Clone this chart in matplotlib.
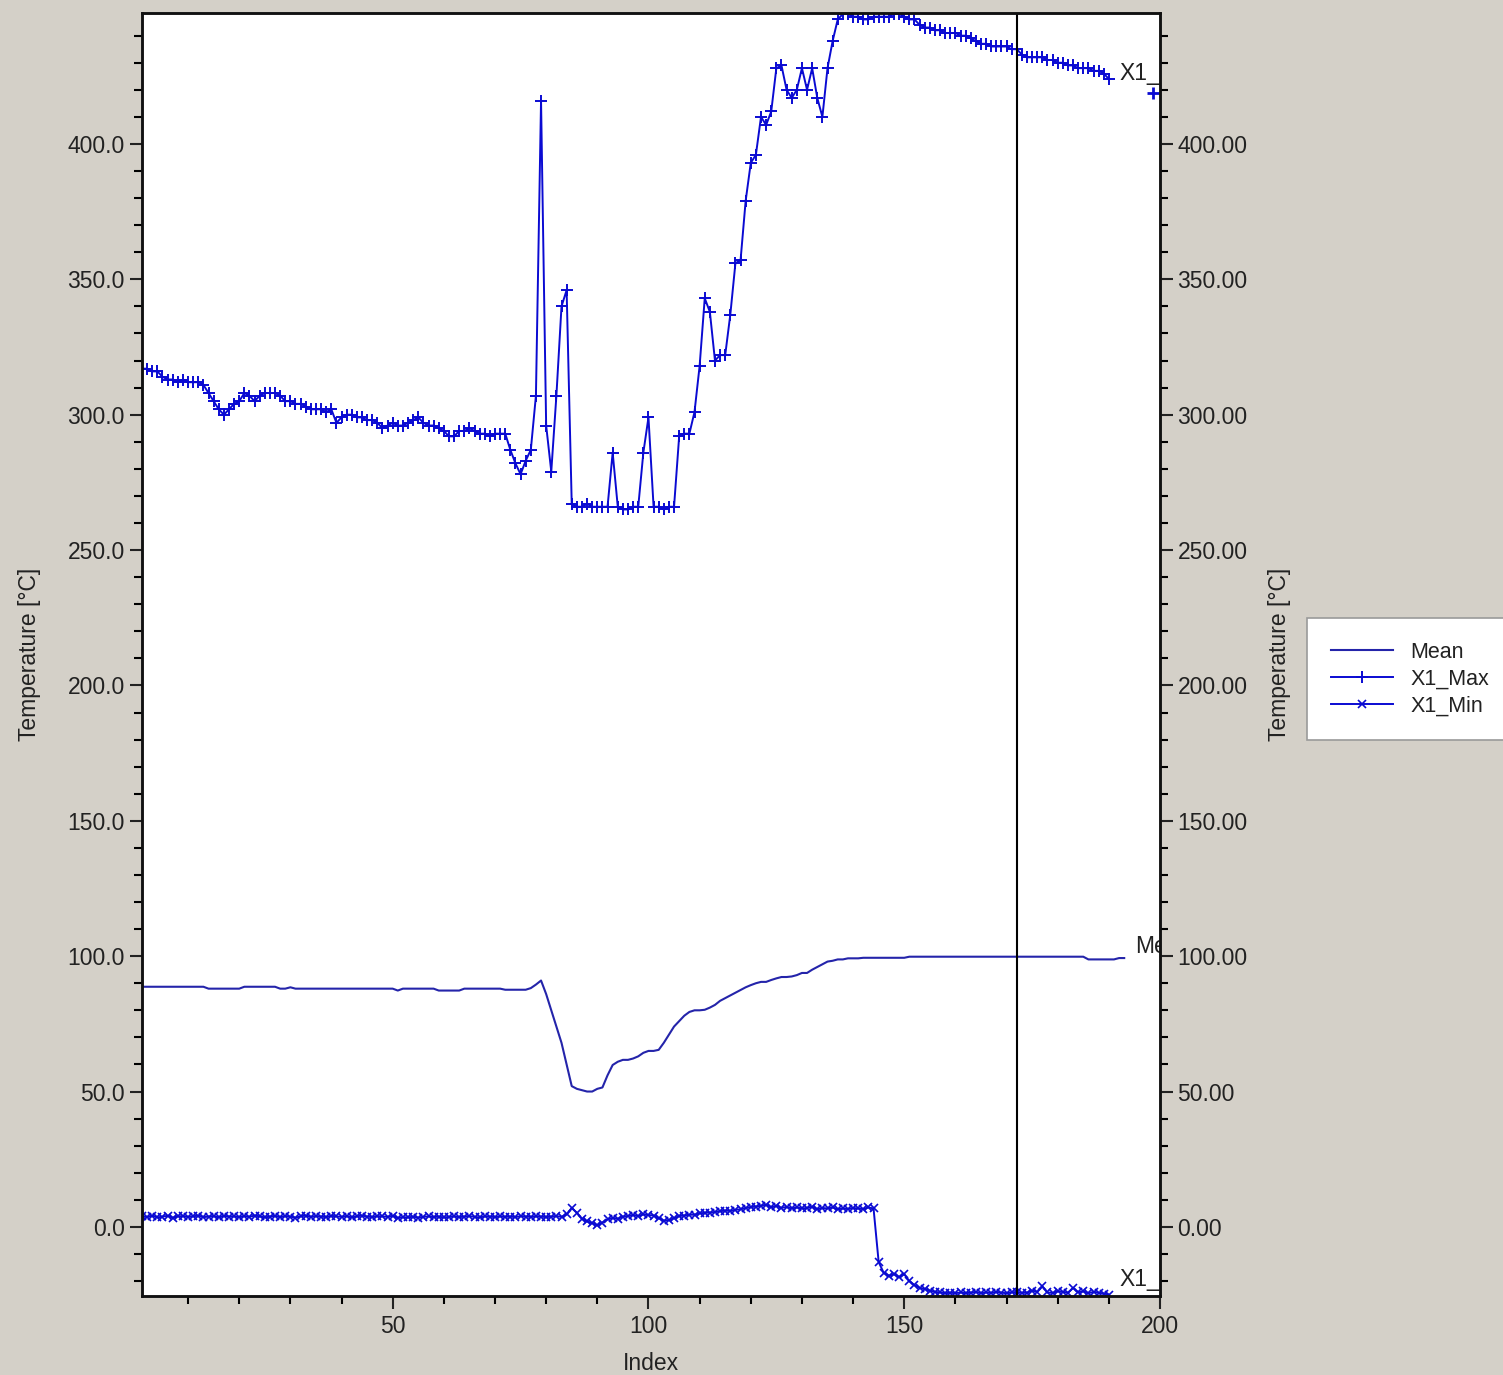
import matplotlib.pyplot as plt
from matplotlib.ticker import MultipleLocator, FormatStrFormatter

plt.rcParams['font.family'] = ['Liberation Sans', 'DejaVu Sans']

# data
max_vals = [317, 317, 316, 316, 314, 313, 313, 312, 313, 312,
            312, 312, 311, 308, 305, 302, 300, 302, 304, 305,
            308, 307, 305, 307, 308, 308, 308, 307, 305, 305,
            304, 304, 303, 302, 302, 302, 301, 302, 297, 299,
            300, 300, 299, 299, 298, 298, 297, 295, 296, 297,
            296, 296, 297, 298, 299, 297, 296, 296, 295, 294,
            292, 292, 294, 294, 295, 294, 293, 293, 292, 293,
            293, 293, 287, 282, 278, 283, 287, 307, 416, 296,
            279, 307, 340, 346, 267, 266, 266, 267, 266, 266,
            266, 266, 286, 266, 265, 265, 266, 266, 286, 299,
            266, 266, 265, 266, 266, 292, 293, 293, 301, 318,
            343, 338, 320, 322, 322, 337, 356, 357, 379, 393,
            396, 410, 407, 412, 428, 429, 420, 417, 420, 428,
            420, 428, 417, 410, 428, 438, 446, 448, 448, 447,
            447, 446, 446, 447, 447, 447, 447, 448, 448, 447,
            446, 446, 444, 443, 443, 442, 442, 441, 441, 441,
            440, 440, 439, 438, 437, 437, 436, 436, 436, 436,
            435, 435, 433, 432, 432, 432, 432, 431, 431, 430,
            430, 429, 429, 428, 428, 428, 427, 427, 426, 424]

mean_vals = [88.7, 88.7, 88.7, 88.7, 88.7, 88.7, 88.7, 88.7, 88.7, 88.7,
             88.7, 88.7, 88.7, 88.0, 88.0, 88.0, 88.0, 88.0, 88.0, 88.0,
             88.7, 88.7, 88.7, 88.7, 88.7, 88.7, 88.7, 88.0, 88.0, 88.5,
             88.0, 88.0, 88.0, 88.0, 88.0, 88.0, 88.0, 88.0, 88.0, 88.0,
             88.0, 88.0, 88.0, 88.0, 88.0, 88.0, 88.0, 88.0, 88.0, 88.0,
             87.3, 88.0, 88.0, 88.0, 88.0, 88.0, 88.0, 88.0, 87.3, 87.3,
             87.3, 87.3, 87.3, 88.0, 88.0, 88.0, 88.0, 88.0, 88.0, 88.0,
             88.0, 87.6, 87.6, 87.6, 87.6, 87.6, 88.2, 89.5, 91.0, 86.0,
             80.0, 74.0, 68.0, 60.0, 52.0, 51.0, 50.5, 50.0, 50.0, 51.0,
             51.5, 56.0, 59.8, 61.0, 61.7, 61.7, 62.2, 63.0, 64.3, 65.0,
             65.0, 65.4, 68.0, 71.0, 74.0, 76.0, 78.0, 79.4, 80.0, 80.0,
             80.2, 81.0, 82.0, 83.5, 84.5, 85.5, 86.5, 87.5, 88.5, 89.3,
             90.0, 90.5, 90.5, 91.2, 91.8, 92.3, 92.3, 92.5, 93.0, 93.8,
             93.8, 95.0, 96.0, 97.0, 98.0, 98.3, 98.8, 98.8, 99.2, 99.2,
             99.2, 99.4, 99.4, 99.4, 99.4, 99.4, 99.4, 99.4, 99.4, 99.4,
             99.8, 99.8, 99.8, 99.8, 99.8, 99.8, 99.8, 99.8, 99.8, 99.8,
             99.8, 99.8, 99.8, 99.8, 99.8, 99.8, 99.8, 99.8, 99.8, 99.8,
             99.8, 99.8, 99.8, 99.8, 99.8, 99.8, 99.8, 99.8, 99.8, 99.8,
             99.8, 99.8, 99.8, 99.8, 99.8, 98.8, 98.8, 98.8, 98.8, 98.8,
             98.8, 99.3, 99.3]

min_vals = [4.0, 3.6, 4.2, 3.5, 3.8, 4.1, 3.4, 3.9, 4.0, 3.7,
            3.9, 4.2, 3.6, 3.8, 4.0, 3.5, 4.1, 3.8, 3.9, 3.6,
            4.0, 3.7, 4.2, 3.9, 3.5, 3.8, 4.1, 3.6, 4.0, 3.8,
            3.4, 3.9, 4.2, 3.7, 4.0, 3.8, 3.6, 4.1, 3.9, 3.7,
            4.0, 3.5, 3.9, 4.2, 3.8, 3.6, 4.0, 3.9, 3.7, 4.1,
            3.3, 3.6, 3.5, 3.8, 3.4, 3.7, 3.9, 3.6, 3.8, 3.5,
            3.7, 3.9, 3.6, 3.8, 4.0, 3.7, 3.5, 3.9, 3.8, 3.6,
            3.9, 3.7, 3.8, 3.6, 4.0, 3.8, 3.7, 3.9, 3.8, 3.6,
            3.8, 4.0, 3.7, 4.6, 7.0, 5.2, 3.0, 2.0, 1.4, 0.6,
            1.6, 2.8, 3.3, 3.0, 3.8, 4.0, 4.4, 4.0, 4.6, 4.4,
            4.2, 3.2, 2.3, 2.5, 3.2, 4.0, 4.2, 4.5, 4.5, 5.0,
            5.2, 5.3, 5.5, 5.8, 6.0, 5.9, 6.3, 6.5, 7.0, 7.3,
            7.5, 7.8, 8.2, 7.2, 7.8, 7.0, 7.4, 6.8, 7.2, 6.8,
            7.0, 7.5, 6.5, 7.0, 6.8, 7.2, 6.5, 6.8, 6.6, 7.0,
            6.8, 6.6, 7.2, 6.8, -13.0, -17.0, -18.0, -17.5, -18.5, -17.5,
            -20.0, -21.5, -22.5, -23.0, -23.5, -24.0, -24.2, -24.5, -24.3, -24.5,
            -24.2, -24.5, -24.3, -24.0, -24.5, -24.2, -24.4, -24.0, -24.3, -24.5,
            -24.2, -24.0, -24.4, -24.3, -23.5, -24.0, -22.0, -24.2, -24.4, -23.8,
            -24.0, -24.3, -22.5, -24.2, -23.8, -24.5, -24.0, -24.3, -24.6, -25.0]

idx_max = list(range(1, len(max_vals) + 1))
idx_mean = list(range(1, len(mean_vals) + 1))
idx_min = list(range(1, len(min_vals) + 1))

# stray marker near right border and the cursor line
stray_x = [198.6]
stray_y = [418.8]
cursor_x = 172

# end-of-line labels (clipped by plot area)
end_labels = ["X1_Max", "Mean", "X1_Min"]
end_x = [192.0, 195.2, 192.0]
end_y = [426.0, 103.4, -19.6]

bg = '#d4d0c8'
blue = '#0a0ad2'
navy = '#2424aa'
txt = '#222222'
fs = 16.5

fig = plt.figure(figsize=(15.03, 13.75), dpi=100, facecolor=bg)
ax = fig.add_axes([0.0945, 0.0575, 0.6773, 0.9331])
ax.set_facecolor('white')

l_mean, = ax.plot(idx_mean, mean_vals, color=navy, lw=1.5, label='Mean')
l_max, = ax.plot(idx_max, max_vals, color=blue, lw=1.4, marker='+', ms=8,
                 mew=1.4, label='X1_Max')
l_min, = ax.plot(idx_min, min_vals, color=blue, lw=1.4, marker='x', ms=5.5,
                 mew=1.2, label='X1_Min')
ax.plot(stray_x, stray_y, color=blue, marker='+', ms=8, mew=2, ls='none')
ax.axvline(cursor_x, color='black', lw=1.5)

for lab, x, y in zip(end_labels, end_x, end_y):
    ax.text(x, y, lab, fontsize=fs, color=txt, va='center', ha='left',
            clip_on=True)

ax.set_xlim(1, 200)
ax.set_ylim(-25.5, 448.4)
ax.xaxis.set_major_locator(MultipleLocator(50))
ax.xaxis.set_minor_locator(MultipleLocator(10))
ax.yaxis.set_major_locator(MultipleLocator(50))
ax.yaxis.set_minor_locator(MultipleLocator(10))
ax.yaxis.set_major_formatter(FormatStrFormatter('%.1f'))
ax.tick_params(which='major', direction='out', length=9, width=1.5,
               labelsize=fs, colors=txt)
ax.tick_params(which='minor', direction='out', length=6, width=1.5)
ax.tick_params(axis='x', which='major', pad=5)
ax.set_xlabel('Index', fontsize=fs, color=txt, labelpad=10)
ax.set_ylabel('Temperature [°C]', fontsize=fs, color=txt, labelpad=19)
for s in ax.spines.values():
    s.set_linewidth(1.8)
    s.set_color('#111111')

ax2 = ax.twinx()
ax2.set_ylim(ax.get_ylim())
ax2.yaxis.set_major_locator(MultipleLocator(50))
ax2.yaxis.set_minor_locator(MultipleLocator(10))
ax2.yaxis.set_major_formatter(FormatStrFormatter('%.2f'))
ax2.tick_params(which='major', direction='out', length=9, width=1.5,
                labelsize=fs, colors=txt)
ax2.tick_params(which='minor', direction='out', length=6, width=1.5)
ax2.set_ylabel('Temperature [°C]', fontsize=fs, color=txt, labelpad=15)
for s in ax2.spines.values():
    s.set_linewidth(1.8)
    s.set_color('#111111')

leg = fig.legend(handles=[l_mean, l_max, l_min], loc='upper left',
                 bbox_to_anchor=(1307 / 1503, 1 - 618 / 1375),
                 fontsize=15.5, frameon=True, fancybox=False,
                 borderaxespad=0, borderpad=1.1, handlelength=2.9,
                 handletextpad=0.8, labelspacing=0.28, numpoints=1,
                 framealpha=1)
leg.get_frame().set_facecolor('white')
leg.get_frame().set_edgecolor('#9a9a9a')
leg.get_frame().set_linewidth(1.2)
for t in leg.get_texts():
    t.set_color(txt)

fig.savefig('out.png', dpi=100, facecolor=bg)
